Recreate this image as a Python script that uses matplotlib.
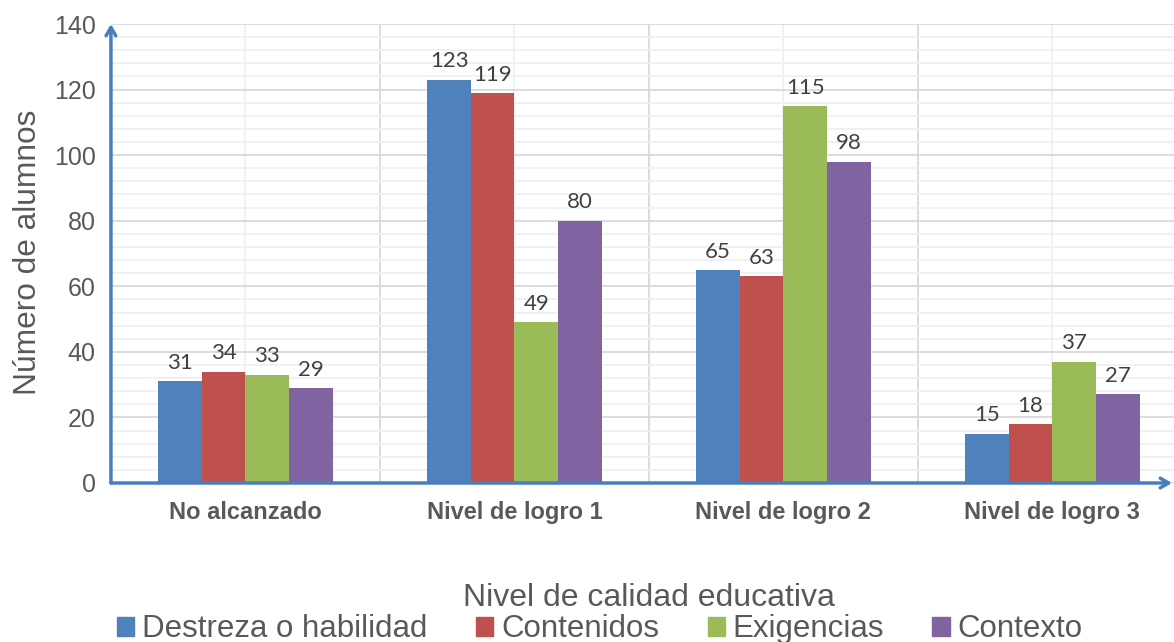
import numpy as np
import matplotlib.pyplot as plt
from matplotlib.patches import Patch
from matplotlib.ticker import MultipleLocator, FixedLocator

# Data
categories = ["No alcanzado", "Nivel de logro 1", "Nivel de logro 2", "Nivel de logro 3"]
series_names = ["Destreza o habilidad", "Contenidos", "Exigencias", "Contexto"]
destreza = [31, 123, 65, 15]
contenidos = [34, 119, 63, 18]
exigencias = [33, 49, 115, 37]
contexto = [29, 80, 98, 27]
colors = ["#4F81BD", "#C0504D", "#9BBB59", "#8064A2"]

values = [destreza, contenidos, exigencias, contexto]
txt = "#595959"
axis_blue = "#4A7EBB"
plt.rcParams["font.family"] = ["Liberation Sans", "DejaVu Sans"]

fig = plt.figure(figsize=(11.74, 6.42), dpi=100)
ax = fig.add_axes([0.0945, 0.2477, 0.9165, 0.7149])

x = np.arange(len(categories))
width = 0.162
for i, (vals, col) in enumerate(zip(values, colors)):
    pos = x + (i - 1.5) * width
    ax.bar(pos, vals, width, color=col, zorder=3)
    for p, v in zip(pos, vals):
        ax.annotate(str(v), (p, v), xytext=(0, 6), textcoords="offset points",
                    ha="center", va="bottom", fontsize=16, color="#404040",
                    family=["Lato", "DejaVu Sans"], zorder=4)

ax.set_xlim(-0.5, 3.5)
ax.set_ylim(0, 140)
ax.yaxis.set_major_locator(MultipleLocator(20))
ax.yaxis.set_minor_locator(MultipleLocator(4))
ax.xaxis.set_major_locator(FixedLocator(x))
ax.xaxis.set_minor_locator(FixedLocator([0.5, 1.5, 2.5]))
ax.set_xticklabels(categories, fontsize=17, fontweight="bold", color=txt)
ax.tick_params(axis="x", which="both", length=0, pad=13)
ax.tick_params(axis="y", which="both", length=0, pad=11, labelsize=18,
               labelcolor=txt)

ax.grid(True, axis="y", which="major", color="#D9D9D9", lw=1.3, zorder=0)
ax.grid(True, axis="y", which="minor", color="#F0F0F0", lw=1.3, zorder=0)
ax.grid(True, axis="x", which="minor", color="#D9D9D9", lw=1.3, zorder=0)
ax.grid(True, axis="x", which="major", color="#F0F0F0", lw=1.3, zorder=0)

for s in ax.spines.values():
    s.set_visible(False)

# axis lines with arrows
ax.annotate("", xy=(0, 1.0), xytext=(0, 0), xycoords="axes fraction",
            arrowprops=dict(arrowstyle="->,head_length=0.6,head_width=0.35",
                            color=axis_blue, lw=2.5, shrinkA=0, shrinkB=0),
            annotation_clip=False, zorder=5)
ax.annotate("", xy=(1172 / 1174, 159 / 642), xytext=(111 / 1174, 159 / 642),
            xycoords="figure fraction",
            arrowprops=dict(arrowstyle="->,head_length=0.6,head_width=0.35",
                            color=axis_blue, lw=2.5, shrinkA=0, shrinkB=0),
            annotation_clip=False, zorder=5)

fig.text(0.024, 0.607, "Número de alumnos", rotation=90, ha="center", va="center",
         fontsize=22.8, color=txt)
fig.text(0.553, 0.068, "Nivel de calidad educativa", ha="center", va="center",
         fontsize=23, color=txt)

handles = [Patch(color=c, label=n) for c, n in zip(colors, series_names)]
fig.legend(handles=handles, loc="center", bbox_to_anchor=(0.511, 0.02), ncol=4,
           frameon=False, handlelength=0.55, handleheight=0.55,
           handletextpad=0.25, columnspacing=1.55, labelcolor=txt,
           prop={"size": 22.5})

fig.savefig("out.png", dpi=100)
